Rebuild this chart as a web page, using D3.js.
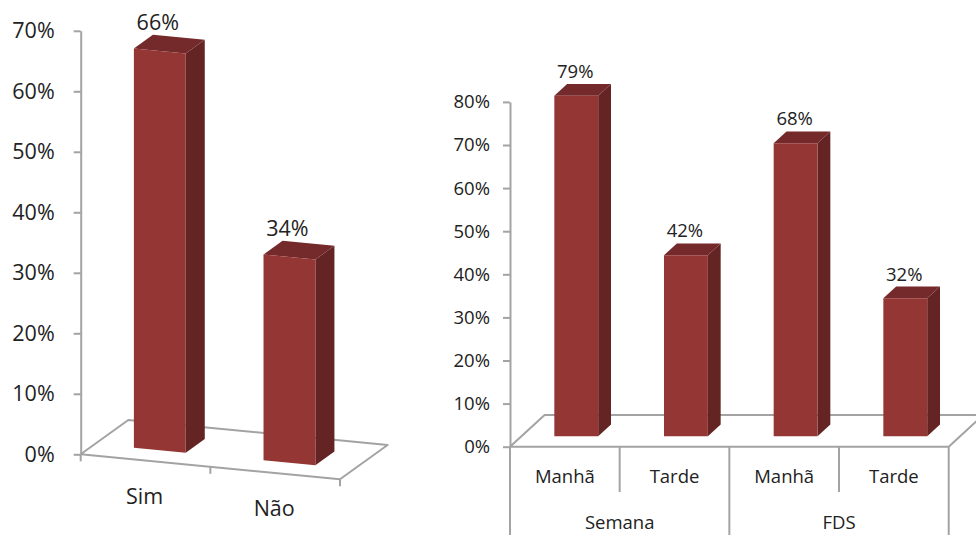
<!DOCTYPE html>
<html><head><meta charset="utf-8">
<script src="https://cdn.jsdelivr.net/npm/d3@7"></script>
<style>
html,body{margin:0;padding:0;background:#fff;}
svg{display:block;}
text{font-family:"Open Sans",sans-serif;fill:#222;}
</style></head><body>
<svg id="chart" width="976" height="535"></svg>
<script>
// ---------- data ----------
const leftCategories = ["Sim", "Não"];
const leftValues = [0.66, 0.34];
const leftTicks = [0, 0.1, 0.2, 0.3, 0.4, 0.5, 0.6, 0.7];

const rightCategories = ["Manhã", "Tarde", "Manhã", "Tarde"];
const rightGroups = ["Semana", "FDS"];
const rightValues = [0.79, 0.42, 0.68, 0.32];
const rightTicks = [0, 0.1, 0.2, 0.3, 0.4, 0.5, 0.6, 0.7, 0.8];

// ---------- style ----------
const COLORS = {front: "#943634", side: "#632423", top: "#74292a", line: "#a3a3a3"};
const pct = d3.format(".0%");
const svg = d3.select("#chart");

function make3DChart(cfg) {
  const g = svg.append("g");
  const O = cfg.origin, ex = cfg.ex, ez = cfg.ez;
  const maxV = d3.max(cfg.ticks);
  const h = d3.scaleLinear().domain([0, 1]).range([0, cfg.k]);
  const xb = d3.scaleBand().domain(d3.range(cfg.categories.length))
    .range([0, 1]).paddingInner(0.6).paddingOuter(0.3);
  const P = (a, v, z) => [O[0] + a * ex[0] + z * ez[0], O[1] + a * ex[1] + z * ez[1] - h(v)];
  const line = d3.line();

  // floor outline
  g.append("path")
    .attr("d", line([P(0,0,0), P(1,0,0), P(1,0,1), P(0,0,1)]) + "Z")
    .attr("fill", "none").attr("stroke", COLORS.line).attr("stroke-width", 2)
    .attr("stroke-linejoin", "round");

  // value axis at front-left corner
  const yAxisScale = d3.scaleLinear().domain([0, maxV]).range([O[1], O[1] - h(maxV)]);
  const ax = g.append("g").attr("transform", `translate(${O[0]},0)`)
    .call(d3.axisLeft(yAxisScale).tickValues(cfg.ticks).tickFormat(pct)
      .tickSize(7).tickSizeOuter(0).tickPadding(cfg.tickPad));
  ax.select(".domain").attr("stroke", COLORS.line).attr("stroke-width", 2);
  ax.selectAll(".tick line").attr("stroke", COLORS.line).attr("stroke-width", 2);
  ax.selectAll(".tick text").attr("fill", "#222").style("font-family", '"Open Sans",sans-serif')
    .style("font-size", cfg.fontSize + "px");

  // bars
  const zf = cfg.zFront, zb = cfg.zBack;
  const bars = g.selectAll("g.bar").data(cfg.values).join("g").attr("class", "bar");
  bars.each(function(v, i) {
    const a0 = xb(i), a1 = xb(i) + xb.bandwidth();
    const s = d3.select(this);
    s.append("path").attr("fill", COLORS.side)
      .attr("d", line([P(a1,0,zf), P(a1,0,zb), P(a1,v,zb), P(a1,v,zf)]) + "Z");
    s.append("path").attr("fill", COLORS.top)
      .attr("d", line([P(a0,v,zf), P(a1,v,zf), P(a1,v,zb), P(a0,v,zb)]) + "Z");
    s.append("path").attr("fill", COLORS.front)
      .attr("d", line([P(a0,0,zf), P(a1,0,zf), P(a1,v,zf), P(a0,v,zf)]) + "Z");
    const ac = xb(i) + xb.bandwidth() / 2;
    s.append("text")
      .attr("x", P(ac, v, zf)[0] + cfg.labelDx)
      .attr("y", P(ac, v, zb)[1] - cfg.labelGap)
      .attr("text-anchor", "middle")
      .style("font-size", cfg.fontSize + "px")
      .text(pct(v));
  });
  return {g, P, xb};
}

// ---------- left chart ----------
const L = make3DChart({
  origin: [80.7, 454.3], ex: [259.3, 25], ez: [47.6, -34.3], k: 605,
  categories: leftCategories, values: leftValues, ticks: leftTicks,
  fontSize: 21.5, tickPad: 19, zFront: 0.3, zBack: 0.7, labelDx: -2, labelGap: 7
});
// category ticks & labels
[0, 0.5, 1].forEach(a => {
  const p = L.P(a, 0, 0);
  L.g.append("line").attr("x1", p[0]).attr("x2", p[0]).attr("y1", p[1]).attr("y2", p[1] + 7)
    .attr("stroke", COLORS.line).attr("stroke-width", 2);
});
leftCategories.forEach((c, i) => {
  const p = L.P(L.xb(i) + L.xb.bandwidth() / 2, 0, 0);
  L.g.append("text").attr("x", p[0] - 1).attr("y", p[1] + 35.5).attr("dy", "0.35em")
    .attr("text-anchor", "middle").style("font-size", "21.5px").text(c);
});

// ---------- right chart ----------
const R = make3DChart({
  origin: [510, 446.7], ex: [438.7, 0], ez: [34.6, -31.7], k: 431,
  categories: rightCategories, values: rightValues, ticks: rightTicks,
  fontSize: 18.5, tickPad: 13, zFront: 0.33, zBack: 0.7, labelDx: -1, labelGap: 6
});
const nR = rightCategories.length;
d3.range(nR + 1).forEach(i => {
  const p = R.P(i / nR, 0, 0);
  R.g.append("line").attr("x1", p[0]).attr("x2", p[0]).attr("y1", p[1])
    .attr("y2", i % 2 === 0 ? 540 : 492)
    .attr("stroke", COLORS.line).attr("stroke-width", 2);
});
rightCategories.forEach((c, i) => {
  const p = R.P((i + 0.5) / nR, 0, 0);
  R.g.append("text").attr("x", p[0]).attr("y", 477).attr("dy", "0.35em")
    .attr("text-anchor", "middle").style("font-size", "18.5px").text(c);
});
rightGroups.forEach((c, j) => {
  const p = R.P((2 * j + 1) / nR, 0, 0);
  R.g.append("text").attr("x", p[0]).attr("y", 523).attr("dy", "0.35em")
    .attr("text-anchor", "middle").style("font-size", "18.5px").text(c);
});
</script>
</body></html>
